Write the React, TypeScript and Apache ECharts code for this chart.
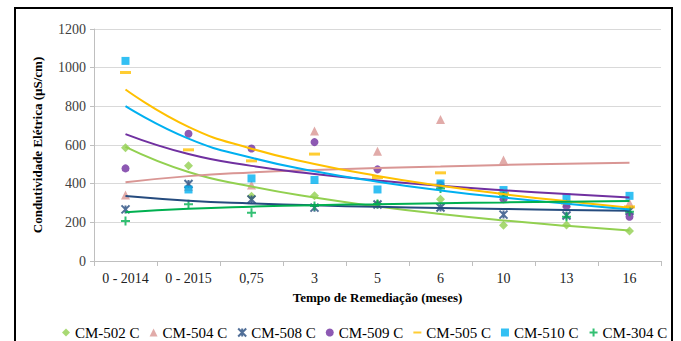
import React, { useEffect, useRef } from 'react';
import * as echarts from 'echarts';

const categories = ['0 - 2014', '0 - 2015', '0,75', '3', '5', '6', '10', '13', '16'];

const seriesNames = ['CM-502 C', 'CM-504 C', 'CM-508 C', 'CM-509 C', 'CM-505 C', 'CM-510 C', 'CM-304 C'];

// measured points
const cm502 = [586, 493, 335, 338, 295, 319, 185, 186, 155];
const cm504 = [341, 385, 393, 672, 568, 732, 522, 300, 300];
const cm508 = [267, 398, 318, 276, 292, 277, 240, 235, 260];
const cm509 = [479, 658, 582, 615, 474, 395, 320, 283, 229];
const cm505 = [975, 575, 518, 553, 432, 456, 350, 300, 280];
const cm510 = [1035, 370, 427, 419, 370, 401, 367, 329, 337];
const cm304 = [207, 293, 250, 285, 295, 375, 335, 229, 255];

// trend lines, read at each category
const t502 = [590, 460, 385, 328, 282, 243, 210, 182, 158];
const t504 = [407, 439, 458, 471, 481, 489, 497, 503, 508];
const t508 = [336, 312, 298, 288, 280, 274, 269, 264, 260];
const t509 = [656, 553, 492, 450, 417, 389, 366, 347, 329];
const t505 = [887, 694, 581, 502, 440, 389, 346, 309, 276];
const t510 = [801, 633, 534, 464, 410, 365, 328, 296, 267];
const t304 = [252, 270, 281, 289, 294, 299, 303, 307, 310];

const yTicks = [0, 200, 400, 600, 800, 1000, 1200];

const FONT = "'Liberation Serif', 'Times New Roman', serif";

const pointSets = [cm502, cm504, cm508, cm509, cm505, cm510, cm304];
const trendSets = [t502, t504, t508, t509, t505, t510, t304];
const colors = ['#92D050', '#D99694', '#254B7E', '#7030A0', '#FFC000', '#00B0F0', '#00B050'];

const symbolDefs: any[] = [
  { symbol: 'diamond', size: 9, stroke: false },
  { symbol: 'triangle', size: 9, stroke: false },
  { symbol: 'path://M0,0L10,10M10,0L0,10M5,0L5,10', size: 8, stroke: true },
  { symbol: 'circle', size: 8, stroke: false },
  { symbol: 'rect', size: [11, 3], stroke: false },
  { symbol: 'rect', size: 8, stroke: false },
  { symbol: 'path://M5,0L5,10M0,5L10,5', size: 9, stroke: true },
];

export default function App() {
  const ref = useRef<HTMLDivElement>(null);
  useEffect(() => {
    const chart = echarts.init(ref.current!, null, { renderer: 'svg' });
    const scatterSeries = seriesNames.map((name, i) => {
      const d = symbolDefs[i];
      return {
        name,
        type: 'scatter',
        data: pointSets[i],
        symbol: d.symbol,
        symbolSize: d.size,
        z: 2,
        itemStyle: d.stroke
          ? { color: 'rgba(0,0,0,0)', borderColor: colors[i], borderWidth: 2 }
          : { color: colors[i] },
      };
    });
    const trendSeries = seriesNames.map((name, i) => ({
      name: name + ' tendência',
      type: 'line',
      data: trendSets[i],
      smooth: true,
      showSymbol: false,
      symbol: 'none',
      z: 3,
      lineStyle: { color: colors[i], width: 2 },
      itemStyle: { color: colors[i] },
    }));
    const legendData = seriesNames.map((name, i) =>
      i === 4 ? { name, icon: 'path://M0,4L12,4L12,7L0,7Z' } : { name }
    );
    chart.setOption({
      animation: false,
      backgroundColor: '#ffffff',
      grid: { left: 94, right: 20, top: 29, bottom: 80 },
      xAxis: {
        type: 'category',
        data: categories,
        boundaryGap: true,
        axisLine: { lineStyle: { color: '#BFBFBF' } },
        axisTick: { show: true, length: 5, lineStyle: { color: '#BFBFBF' } },
        axisLabel: { color: '#222', fontFamily: FONT, fontSize: 14, margin: 10 },
        name: 'Tempo de Remediação (meses)',
        nameLocation: 'middle',
        nameGap: 30,
        nameTextStyle: { color: '#000', fontFamily: FONT, fontSize: 13, fontWeight: 'bold' },
      },
      yAxis: {
        type: 'value',
        min: yTicks[0],
        max: yTicks[yTicks.length - 1],
        interval: 200,
        axisLine: { show: true, lineStyle: { color: '#BFBFBF' } },
        axisTick: { show: true, length: 4, lineStyle: { color: '#BFBFBF' } },
        axisLabel: {
          color: '#404040',
          fontFamily: FONT,
          fontSize: 14,
          margin: 8,
          formatter: (v: number) => String(v),
        },
        splitLine: { lineStyle: { color: '#D9D9D9', width: 1 } },
        name: 'Condutividade Elétrica (µS/cm)',
        nameLocation: 'middle',
        nameGap: 50,
        nameTextStyle: { color: '#000', fontFamily: FONT, fontSize: 13, fontWeight: 'bold' },
      },
      legend: {
        data: legendData,
        left: 62,
        top: 325,
        padding: 0,
        itemGap: 10,
        itemWidth: 8,
        itemHeight: 8,
        textStyle: { color: '#000', fontFamily: FONT, fontSize: 15 },
      },
      graphic: [
        {
          type: 'rect',
          shape: { x: 15, y: 8, width: 657, height: 345 },
          style: { fill: 'none', stroke: '#000', lineWidth: 2 },
          silent: true,
          z: 100,
        },
      ],
      series: [...scatterSeries, ...trendSeries],
    });
    return () => chart.dispose();
  }, []);
  return (
    <div
      ref={ref}
      style={{ position: 'fixed', left: 0, top: 0, width: 681, height: 341, background: '#fff' }}
    />
  );
}
